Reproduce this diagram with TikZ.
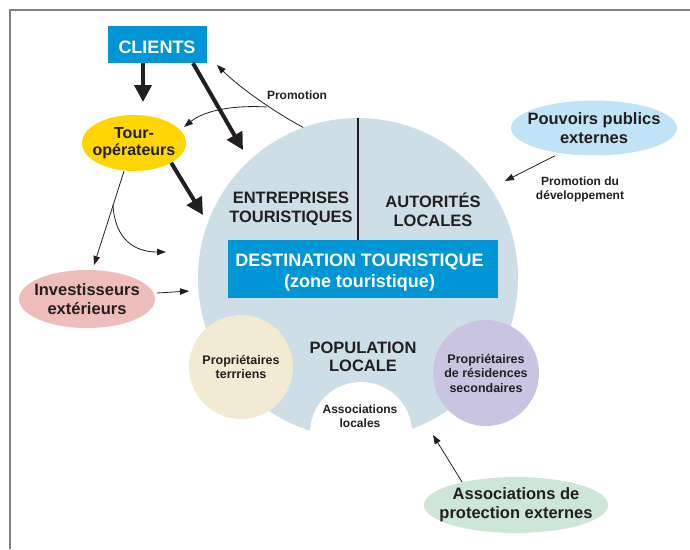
\documentclass[tikz,border=0pt]{standalone}
\usepackage{fontspec}
\setmainfont{Liberation Sans}
\usetikzlibrary{arrows.meta,shapes.geometric}
\definecolor{boxblue}{RGB}{0,150,214}
\definecolor{zonegray}{RGB}{205,222,230}
\definecolor{gold}{RGB}{255,214,0}
\definecolor{rose}{RGB}{238,188,186}
\definecolor{sky}{RGB}{192,228,246}
\definecolor{mint}{RGB}{205,230,213}
\definecolor{sand}{RGB}{242,234,211}
\definecolor{lilac}{RGB}{200,196,226}
\definecolor{ink}{RGB}{35,31,32}
\tikzset{blob/.style={ellipse, inner xsep=-20pt, inner ysep=-5pt, align=center, text=ink, font=\bfseries\fontsize{16.5}{19}\selectfont}}
\tikzset{disc/.style={circle, inner sep=0pt, align=center, text=ink, font=\bfseries\fontsize{12.5}{14.5}\selectfont}}
\tikzset{bluebox/.style={fill=boxblue, text=white, inner sep=0pt, align=center}}
\tikzset{lbl/.style={text=ink, align=center, font=\bfseries\fontsize{12}{14}\selectfont}}
\tikzset{head/.style={text=ink, align=center, font=\bfseries\fontsize{16.5}{18.5}\selectfont}}
\tikzset{heavy/.style={draw=ink, line width=4pt, -{Triangle[length=17pt,width=17pt]}}}
\tikzset{fine/.style={draw=ink, line width=.8pt, -{Triangle[length=9pt,width=6.5pt]}}}

\begin{document}
\begin{tikzpicture}[x=1pt,y=-1pt]
  \useasboundingbox (0,0) rectangle (690,549);
  \draw[gray, line width=1.5pt] (10,549) -- (10,10) -- (690,10);

  \node[circle, fill=zonegray, minimum size=320pt] (zone) at (358,278) {};
  \node[circle, fill=white, minimum size=102pt] (locales) at (361,433) {};
  \node[lbl] (locTxt) at (360,416) {Associations\\locales};
  \node[disc, fill=sand, minimum size=104pt] (terr) at (241,367) {Propriétaires\\terrriens};
  \node[disc, fill=lilac, minimum size=106pt] (resid) at (486,373) {Propriétaires\\de résidences\\secondaires};

  \node[bluebox, minimum width=270pt, minimum height=58pt] (dest) at (363,269) {};
  \node[text=white, align=center, font=\bfseries\fontsize{18}{21}\selectfont] (destTxt) at (359.5,273) {DESTINATION TOURISTIQUE\\(zone touristique)};
  \draw[ink, line width=1.5pt] (zone.north) -- (zone.north |- dest.north);
  \node[head] (entr) at (291,209) {ENTREPRISES\\TOURISTIQUES};
  \node[head] (auto) at (433,210) {AUTORITÉS\\LOCALES};
  \node[head] (pop) at (363,357) {POPULATION\\LOCALE};

  \node[bluebox, minimum width=99pt, minimum height=37pt, text height=18pt, text depth=0pt, font=\bfseries\fontsize{18}{21}\selectfont] (clients) at (157,44.5) {CLIENTS};
  \node[blob, fill=gold, minimum width=104pt, minimum height=56pt, font=\bfseries\fontsize{16}{17.5}\selectfont] (tour) at (134,143) {Tour-\\opérateurs};
  \node[blob, fill=rose, minimum width=136pt, minimum height=58pt] (invest) at (87,299) {Investisseurs\\extérieurs};
  \node[blob, fill=sky, minimum width=166pt, minimum height=55pt] (pouvoirs) at (594,128) {Pouvoirs publics\\externes};
  \node[blob, fill=mint, minimum width=184pt, minimum height=56pt] (assoc) at (516,505) {Associations de\\protection externes};

  \node[lbl] (promo) at (297,95) {Promotion};
  \node[lbl] (promoDev) at (580,189) {Promotion du\\développement};

  \coordinate (cliTip) at (143,102);
  \coordinate (entrTip) at (243,150);
  \coordinate (tourTip) at (203,215);
  \coordinate (promoTip) at (217,65);
  \coordinate (promoFork) at (267,107);
  \coordinate (forkEnd) at (184,127);
  \coordinate (invTip) at (94,265);
  \coordinate (tourFork) at (113,205);
  \coordinate (forkTip) at (166,252);
  \coordinate (investTip) at (189,291);
  \coordinate (devTip) at (505,181);
  \coordinate (assocTip) at (433,435);

  \draw[heavy] ([xshift=-14]clients.south) -- (cliTip);
  \draw[heavy] ([xshift=36]clients.south) -- (entrTip);
  \draw[heavy] (tour.-28) -- (tourTip);

  \draw[fine] (zone.110) .. controls (276,113) and (240,88) .. (promoTip);
  \draw[fine] (promoFork) .. controls (235,105) and (205,110) .. (forkEnd);
  \draw[fine] ([xshift=-10]tour.south) -- (invTip);
  \draw[fine] (tourFork) .. controls (115,240) and (135,252) .. (forkTip);
  \draw[fine] ([shift={(2,-6)}]invest.east) -- (investTip);
  \draw[fine] ([xshift=-39]pouvoirs.south) -- (devTip);
  \draw[fine] (assoc.157.7) -- (assocTip);
\end{tikzpicture}
\end{document}
